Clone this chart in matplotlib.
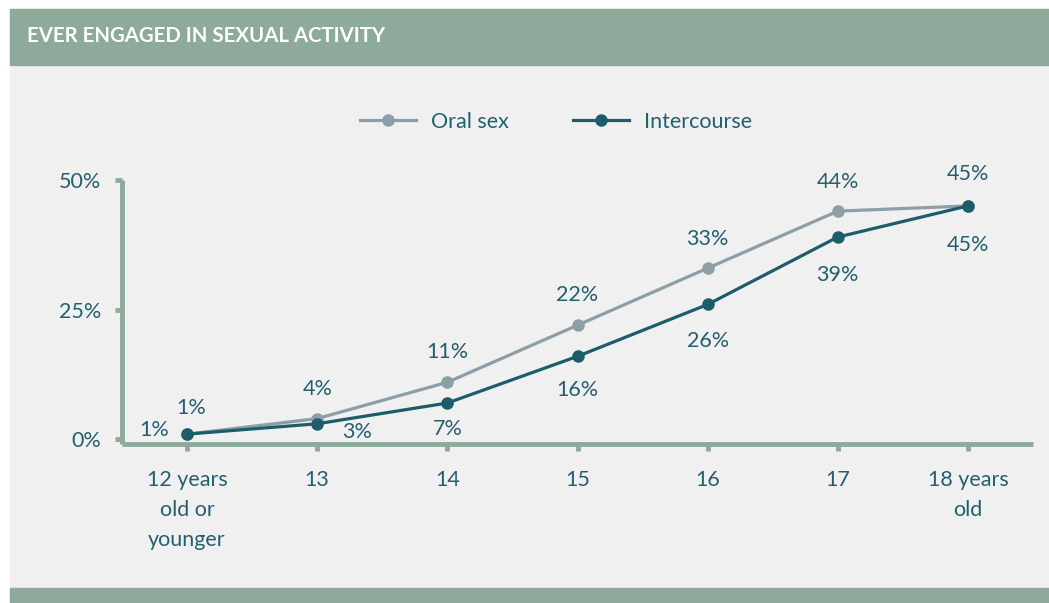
import matplotlib.pyplot as plt
from matplotlib.patches import Rectangle
import numpy as np

# data
# ---------------------------------
ages = ['12 years\nold or\nyounger', '13', '14', '15', '16', '17', '18 years\nold']
oral_sex = [1, 4, 11, 22, 33, 44, 45]
intercourse = [1, 3, 7, 16, 26, 39, 45]
series_names = ['Oral sex', 'Intercourse']
title = 'EVER ENGAGED IN SEXUAL ACTIVITY'

# colours
# -------
sage = '#8eaa9b'
panel = '#f0f0f0'
teal = '#1d5d69'
grey_blue = '#8c9ea6'
text_col = '#245f6e'

plt.rcParams['font.family'] = ['Lato', 'DejaVu Sans']
fs = 15.5

W, H = 1049, 603
fig = plt.figure(figsize=(W / 100, H / 100), dpi=100)
fig.patch.set_facecolor('white')

# background panel, header band and footer band (pixel coords -> figure fractions)
def band(x0, y0, x1, y1, color):
    fig.patches.append(Rectangle((x0 / W, 1 - y1 / H), (x1 - x0) / W, (y1 - y0) / H,
                                 transform=fig.transFigure, color=color, zorder=-5))

band(10, 9, W, H, panel)
band(10, 9, W, 65, sage)
band(10, 588, W, H, sage)
fig.text(27 / W, 1 - 36 / H, title, color='white', fontsize=14.7, fontweight='bold',
         va='center', ha='left')

ax = fig.add_axes([122 / W, 1 - 444 / H, (1033 - 122) / W, (444 - 180) / H])
ax.set_facecolor('none')
ax.set_zorder(2)

x = np.arange(len(ages))
ax.plot(x, oral_sex, color=grey_blue, lw=2.3, marker='o', ms=8, label=series_names[0], zorder=3)
ax.plot(x, intercourse, color=teal, lw=2.3, marker='o', ms=8, label=series_names[1], zorder=4)

ax.set_xlim(-0.5, len(ages) - 0.5)
ax.set_ylim(-0.9, 50)
ax.set_yticks([0, 25, 50])
ax.set_yticklabels([f'{v}%' for v in [0, 25, 50]])
ax.set_xticks(x)
ax.set_xticklabels(ages, linespacing=1.6)

for side in ['top', 'right']:
    ax.spines[side].set_visible(False)
for side in ['left', 'bottom']:
    ax.spines[side].set_color(sage)
    ax.spines[side].set_linewidth(3.5)
    ax.spines[side].set_capstyle('butt')
ax.tick_params(axis='both', colors=sage, width=3.5, length=5, labelcolor=text_col, labelsize=fs)
ax.tick_params(axis='y', pad=10)
ax.tick_params(axis='x', pad=14)

# value labels: oral above the points, intercourse below
# -------------------------------------------------------
oral_off = [(3, 19), (0, 21), (0, 22), (0, 22), (0, 21), (0, 21), (0, 23)]
inter_off = [(-24, 3), (29, -6), (0, -19), (0, -24), (0, -26), (0, -27), (0, -28)]
for i in range(len(ages)):
    ax.annotate(f'{oral_sex[i]}%', (x[i], oral_sex[i]), xytext=oral_off[i],
                textcoords='offset points', ha='center', va='center',
                color=text_col, fontsize=fs)
    ax.annotate(f'{intercourse[i]}%', (x[i], intercourse[i]), xytext=inter_off[i],
                textcoords='offset points', ha='center', va='center',
                color=text_col, fontsize=fs)

leg = fig.legend(loc='center', bbox_to_anchor=(556 / W, 1 - 122 / H), ncol=2,
                 frameon=False, fontsize=fs, handlelength=2.6, handletextpad=0.7,
                 columnspacing=3.0)
for t in leg.get_texts():
    t.set_color(text_col)

fig.savefig('out.png', dpi=100, facecolor=fig.get_facecolor())
